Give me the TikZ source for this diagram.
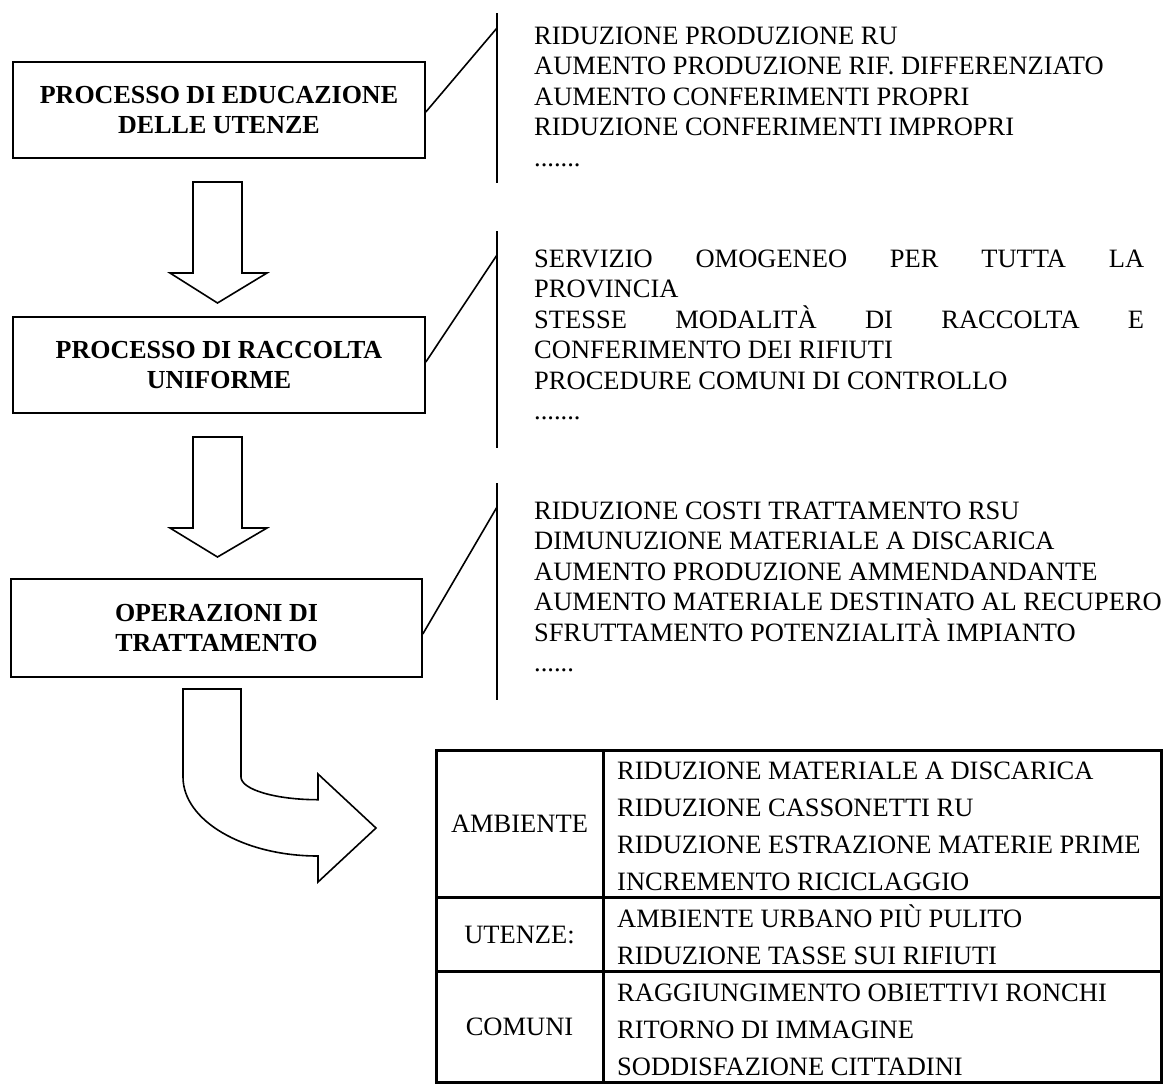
\documentclass[tikz,border=0pt]{standalone}
\usepackage{fontspec}
\setmainfont{Liberation Serif}
\begin{document}
\begin{tikzpicture}[x=1pt,y=-1pt,
  stage/.style={draw, line width=1.6pt, minimum width=412pt, minimum height=96pt,
    inner sep=0pt, align=center, font=\fontsize{26}{30}\selectfont\bfseries},
  link/.style={line width=1.6pt},
  blockarrow/.style={draw, line width=1.6pt, line join=miter, fill=white},
  note/.style={anchor=base west, inner sep=0pt, font=\fontsize{26.5}{30.5}\selectfont},
  cell/.style={anchor=base west, inner sep=0pt, font=\fontsize{26.5}{30.5}\selectfont},
  group/.style={anchor=center, inner sep=0pt, font=\fontsize{26.5}{30.5}\selectfont},
  grid/.style={line width=3pt},
]
\useasboundingbox (0,0) rectangle (1174,1084);

% process boxes
\node[stage] (box1) at (219,110) {PROCESSO DI EDUCAZIONE\\DELLE UTENZE};
\node[stage] (box2) at (219,365) {PROCESSO DI RACCOLTA\\UNIFORME};
\node[stage, minimum width=411pt, minimum height=98pt] (box3) at (216.5,628) {OPERAZIONI DI\\TRATTAMENTO};

% brackets with their leaders
\coordinate (b1t) at (497,13);  \coordinate (b1b) at (497,183); \coordinate (b1k) at (497,28);
\coordinate (b2t) at (497,231); \coordinate (b2b) at (497,448); \coordinate (b2k) at (497,255);
\coordinate (b3t) at (497,483); \coordinate (b3b) at (497,700); \coordinate (b3k) at (497,507);
\draw[link] (b1t) -- (b1b);
\draw[link] (b2t) -- (b2b);
\draw[link] (b3t) -- (b3b);
\draw[link] ([yshift=-2pt]box1.east) -- (b1k);
\draw[link] ([yshift=3pt]box2.east) -- (b2k);
\draw[link] ([yshift=-6pt]box3.east) -- (b3k);

% goals of the education process
\node[note] (n11) at (534,44)    {RIDUZIONE PRODUZIONE RU};
\node[note] (n12) at (534,74.5)  {AUMENTO PRODUZIONE RIF. DIFFERENZIATO};
\node[note] (n13) at (534,105)   {AUMENTO CONFERIMENTI PROPRI};
\node[note] (n14) at (534,135.5) {RIDUZIONE CONFERIMENTI IMPROPRI};
\node[note] (n15) at (534,166)   {.......};

% goals of the uniform collection
\node[note] (n21) at (534,267)   {\makebox[610pt][s]{SERVIZIO OMOGENEO PER TUTTA LA}};
\node[note] (n22) at (534,297.5) {PROVINCIA};
\node[note] (n23) at (534,328)   {\makebox[610pt][s]{STESSE MODALITÀ DI RACCOLTA E}};
\node[note] (n24) at (534,358.5) {CONFERIMENTO DEI RIFIUTI};
\node[note] (n25) at (534,389)   {PROCEDURE COMUNI DI CONTROLLO};
\node[note] (n26) at (534,419.5) {.......};

% goals of the treatment
\node[note] (n31) at (534,519)   {RIDUZIONE COSTI TRATTAMENTO RSU};
\node[note] (n32) at (534,549.5) {DIMUNUZIONE MATERIALE A DISCARICA};
\node[note] (n33) at (534,580)   {AUMENTO PRODUZIONE AMMENDANDANTE};
\node[note] (n34) at (534,610.5) {AUMENTO MATERIALE DESTINATO AL RECUPERO};
\node[note] (n35) at (534,641)   {SFRUTTAMENTO POTENZIALITÀ IMPIANTO};
\node[note] (n36) at (534,671.5) {......};

% straight block arrows
\draw[blockarrow] (193,182) -- (242,182) -- (242,273) -- (267,273) -- (217.5,303)
  -- (170,273) -- (193,273) -- cycle;
\draw[blockarrow] (193,437) -- (242,437) -- (242,528) -- (267,528) -- (217.5,557)
  -- (170,528) -- (193,528) -- cycle;

% bent block arrow towards the table
\draw[blockarrow] (183,689) -- (241,689) -- (241,777)
  .. controls (241,789.5) and (275.5,799.7) .. (318,799.7)
  -- (318,774) -- (376,828) -- (318,882) -- (318,856)
  .. controls (243.4,856) and (183,820.6) .. (183,777) -- cycle;

% benefits table
\draw[grid] (436,750) rectangle (1161,1082);
\draw[grid] (603,750) -- (603,1082);
\draw[grid] (436,897.6) -- (1161,897.6);
\draw[grid] (436,971.3) -- (1161,971.3);

\node[group] (g1) at (519.5,823.6) {AMBIENTE};
\node[group] (g2) at (519.5,934.5) {UTENZE:};
\node[group] (g3) at (519.5,1026.5) {COMUNI};

\node[cell] (r1) at (617,779)  {RIDUZIONE MATERIALE A DISCARICA};
\node[cell] (r2) at (617,816)  {RIDUZIONE CASSONETTI RU};
\node[cell] (r3) at (617,853)  {RIDUZIONE ESTRAZIONE MATERIE PRIME};
\node[cell] (r4) at (617,890)  {INCREMENTO RICICLAGGIO};
\node[cell] (r5) at (617,927)  {AMBIENTE URBANO PIÙ PULITO};
\node[cell] (r6) at (617,964)  {RIDUZIONE TASSE SUI RIFIUTI};
\node[cell] (r7) at (617,1001) {RAGGIUNGIMENTO OBIETTIVI RONCHI};
\node[cell] (r8) at (617,1038) {RITORNO DI IMMAGINE};
\node[cell] (r9) at (617,1075) {SODDISFAZIONE CITTADINI};
\end{tikzpicture}
\end{document}
